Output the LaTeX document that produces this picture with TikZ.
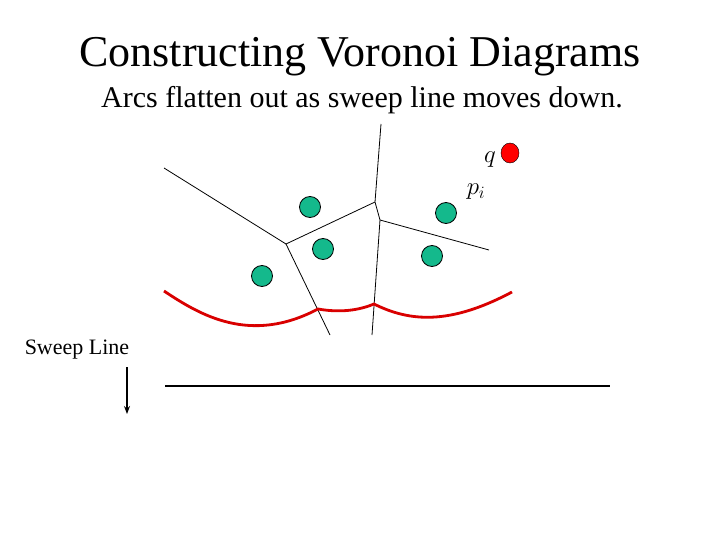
\documentclass[tikz,border=0pt]{standalone}
\usepackage{fontspec}
\setmainfont{Liberation Serif}
\usetikzlibrary{shapes.geometric,arrows.meta}
\definecolor{sitec}{RGB}{20,185,140}
\begin{document}
\begin{tikzpicture}[x=1pt,y=-1pt,
  site/.style={circle,draw=black,fill=sitec,minimum size=21pt,inner sep=0pt,line width=0.8pt},
  edge/.style={line width=0.8pt},
  txt/.style={inner sep=0pt}]
\fill[white] (0,0) rectangle (720,540);
\useasboundingbox (0,0) rectangle (720,540);
\node[txt,font=\fontsize{44}{46}\selectfont] (title) at (360,57) {Constructing Voronoi Diagrams};
\node[txt,font=\fontsize{30}{32}\selectfont] (sub) at (362,100) {Arcs flatten out as sweep line moves down.};
\coordinate (A) at (375,202);
\coordinate (B) at (380,220);
\coordinate (C) at (286,244);
\coordinate (e1) at (164,168);
\coordinate (e2) at (381,124);
\coordinate (e3) at (489,250);
\coordinate (e4) at (372,335);
\coordinate (e5) at (330,335);
\draw[edge] (e1) -- (C) -- (A) -- (e2);
\draw[edge] (A) -- (B) -- (e3);
\draw[edge] (B) -- (e4);
\draw[edge] (C) -- (e5);
\node[site] (s1) at (310,207) {};
\node[site] (s2) at (323,249) {};
\node[site] (s3) at (262,276) {};
\node[site] (s4) at (446,213) {};
\node[site] (s5) at (432,256) {};
\node[ellipse,draw=black,fill=red,minimum width=18pt,minimum height=20pt,inner sep=0pt,line width=0.4pt] (q) at (510,153) {};
\node[txt,font=\fontsize{26}{26}\selectfont] (ql) at (490,160) {$q$};
\node[txt,font=\fontsize{24}{24}\selectfont] (pl) at (476,192) {$p_i$};
\draw[red!85!black,line width=2.8pt] (164,291) .. controls (200,315) and (250,345) .. (318,309)
  .. controls (335,312) and (355,312) .. (374,304)
  .. controls (410,322) and (450,325) .. (512,292);
\draw[line width=2.8pt] (165,386) -- (610,386);
\node[txt,font=\fontsize{22}{24}\selectfont] (sl) at (77,350) {Sweep Line};
\coordinate (a1) at (127,367);
\coordinate (a2) at (127,414);
\draw[line width=1.4pt,-{Stealth[length=8pt,width=6pt]}] (a1) -- (a2);
\end{tikzpicture}
\end{document}
